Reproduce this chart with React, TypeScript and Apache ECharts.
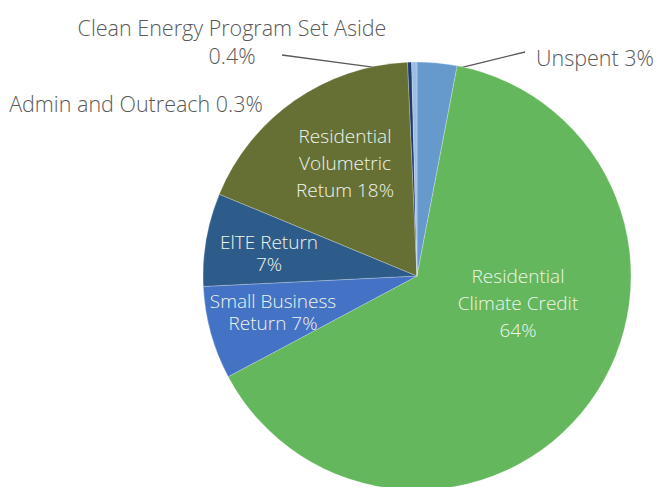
import React, { useEffect, useRef } from "react";
import * as echarts from "echarts";

const categories = [
  "Unspent",
  "Residential\nClimate Credit",
  "Small Business\nReturn",
  "ElTE Return",
  "Residential\nVolumetric\nRetum",
  "Admin and Outreach",
  "Clean Energy Program Set Aside",
];
const values = [3, 64, 7, 7, 18, 0.3, 0.4];
const valueOnNewLine = [false, true, false, true, false, false, true];
const colors = ["#6699cc", "#64b75c", "#4472c4", "#2e5c8a", "#667034", "#1f3b6b", "#9cbde6"];
const insideLabel = [false, true, true, true, true, false, false];

const CX = 417;
const CY = 276;
const R = 214;
// label anchor positions (centre of text block)
const labelPos: [number, number][] = [
  [595, 57],
  [518, 303],
  [273, 312],
  [269, 253],
  [345, 163],
  [136, 103],
  [232, 41],
];
const lineEnds: ([number, number] | null)[] = [
  [525, 52],
  null,
  null,
  null,
  null,
  null,
  [282, 55],
];
const lineHeights = [27, 27, 22, 22, 27, 27, 28];

export default function App() {
  const ref = useRef<HTMLDivElement>(null);
  useEffect(() => {
    document.body.style.margin = "0";
    const chart = echarts.init(ref.current!, undefined, { renderer: "svg" });
    const data = categories.map((name, i) => ({
      name,
      value: values[i],
      itemStyle: { color: colors[i] },
      label: {
        color: insideLabel[i] ? "#eef5ec" : "#595959",
        fontSize: insideLabel[i] ? 19 : 21.5,
        lineHeight: lineHeights[i],
      },
      labelLine: { show: lineEnds[i] != null },
    }));
    chart.setOption({
      animation: false,
      series: [
        {
          type: "pie",
          center: [CX, CY],
          radius: R,
          startAngle: 90,
          clockwise: true,
          avoidLabelOverlap: false,
          itemStyle: { borderColor: "rgba(255,255,255,0.5)", borderWidth: 0.5 },
          label: {
            show: true,
            position: "outside",
            fontFamily: "'Open Sans', Lato, sans-serif",
            fontWeight: 300,
            fontSize: 20,
            align: "center",
            formatter: (p: any) =>
              `${p.name}${valueOnNewLine[p.dataIndex] ? "\n" : " "}${p.value}%`,
          },
          labelLine: {
            show: true,
            length: 10,
            length2: 10,
            lineStyle: { color: "#595959", width: 1.3 },
          },
          labelLayout: (params: any) => {
            const i = params.dataIndex;
            const [x, y] = labelPos[i];
            const res: any = { x, y, align: "center", verticalAlign: "middle" };
            const end = lineEnds[i];
            if (end && params.labelLinePoints) {
              const p0 = params.labelLinePoints[0];
              const s: [number, number] = [
                CX + (p0[0] - CX) * 0.95,
                CY + (p0[1] - CY) * 0.95,
              ];
              res.labelLinePoints = [s, [(s[0] + end[0]) / 2, (s[1] + end[1]) / 2], end];
            }
            return res;
          },
          data,
        },
      ],
    });
    return () => chart.dispose();
  }, []);
  return <div ref={ref} style={{ width: 656, height: 487 }} />;
}
